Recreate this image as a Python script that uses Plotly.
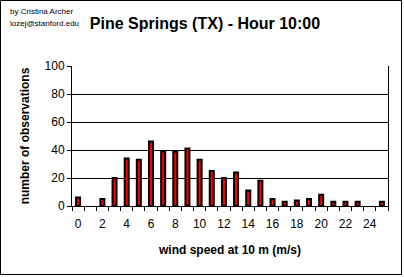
import plotly.graph_objects as go

speeds = [str(i) for i in range(26)]
counts = [6, 0, 5, 20, 34, 33, 46, 39, 39, 41, 33, 25, 20, 24, 11, 18, 5, 3, 4, 5, 8, 3, 3, 3, 0, 3]
tick_labels = [s if int(s) % 2 == 0 else "" for s in speeds]
y_ticks = [0, 20, 40, 60, 80, 100]

W, H = 404, 277
L, R, T, B = 72, 16, 66, 71
pw, ph = W - L - R, H - T - B

def px2x(px):
    return (px - L) / pw

def py2y(py):
    return 1 - (py - T) / ph

FONT = "Arial, Liberation Sans, sans-serif"

# zero-count bins draw nothing (as in the reference)
plot_counts = [c if c > 0 else None for c in counts]

fig = go.Figure(go.Bar(
    x=speeds, y=plot_counts,
    marker=dict(color="#FF0000", line=dict(color="black", width=2)),
))

fig.update_layout(
    width=W, height=H,
    margin=dict(l=L, r=R, t=T, b=B, pad=0),
    paper_bgcolor="white", plot_bgcolor="white",
    bargap=0.67,
    showlegend=False,
    font=dict(family=FONT, color="black", size=12),
    title=dict(text="Pine Springs (TX) - Hour 10:00", xref="container", yref="container",
               x=205 / W, y=1 - 23 / H, xanchor="center", yanchor="middle",
               font=dict(family=FONT, size=16, color="black", weight="bold")),
    xaxis=dict(
        type="category", tickmode="array", tickvals=speeds, ticktext=tick_labels,
        tickson="boundaries", ticks="outside", ticklen=4, tickwidth=1, tickcolor="black",
        tickangle=0, ticklabelstandoff=7,
        showline=True, linecolor="black", linewidth=1, showgrid=False,
        range=[-0.5, 25.5], tickfont=dict(size=12),
        title=dict(text="<b>wind speed at 10 m (m/s)</b>", font=dict(size=12), standoff=15),
    ),
    yaxis=dict(
        range=[0, 100], tickvals=y_ticks, ticks="outside", ticklen=4, tickcolor="black",
        showline=True, mirror=True, linecolor="black", linewidth=1,
        showgrid=True, gridcolor="black", gridwidth=1, zeroline=False,
        tickfont=dict(size=12),
        title=dict(text="<b>number of observations</b>", font=dict(size=12), standoff=12),
    ),
    annotations=[
        dict(text="by Cristina Archer", xref="paper", yref="paper",
             x=px2x(8), y=py2y(11), xanchor="left", yanchor="middle",
             showarrow=False, font=dict(size=8)),
        dict(text="lozej@stanford.edu", xref="paper", yref="paper",
             x=px2x(8), y=py2y(24), xanchor="left", yanchor="middle",
             showarrow=False, font=dict(size=8)),
    ],
    shapes=[dict(type="rect", xref="paper", yref="paper",
                 x0=px2x(0.5), x1=px2x(401.5), y0=py2y(274.5), y1=py2y(0.5),
                 line=dict(color="black", width=1), layer="above")],
)

fig.write_html("out.html")
